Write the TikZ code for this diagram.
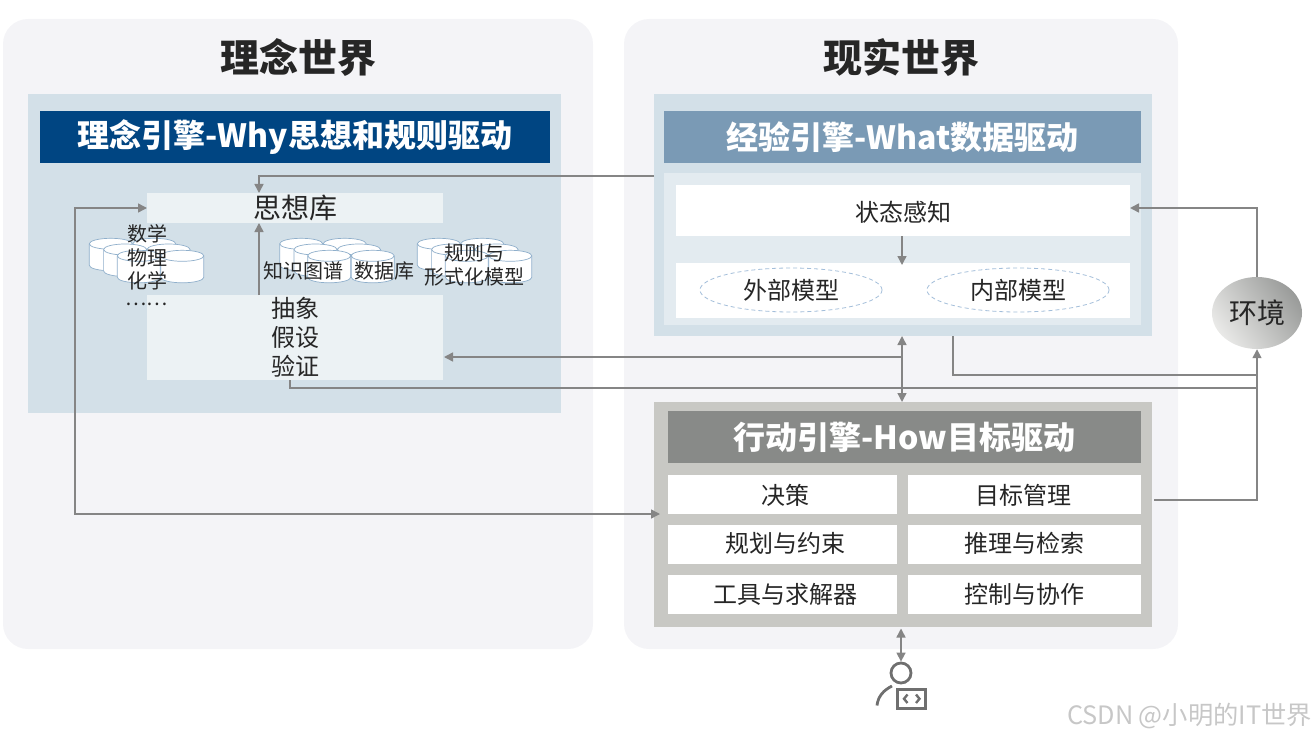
\documentclass[tikz,border=0pt]{standalone}
\usepackage{fontspec}
\setmainfont{Noto Sans CJK SC}
\usetikzlibrary{arrows.meta,shapes.geometric}
\definecolor{panelc}{HTML}{F4F4F7}
\definecolor{bluebg}{HTML}{D3E0E8}
\definecolor{navyc}{HTML}{004582}
\definecolor{steelc}{HTML}{7A9AB5}
\definecolor{innerc}{HTML}{E3EBF0}
\definecolor{palec}{HTML}{ECF2F4}
\definecolor{greybg}{HTML}{C8C8C4}
\definecolor{greyhd}{HTML}{888A88}
\definecolor{linec}{HTML}{858585}
\definecolor{txtc}{HTML}{262626}
\definecolor{cylc}{HTML}{8FAFCB}
\definecolor{dashc}{HTML}{A3BEDA}
\definecolor{iconc}{HTML}{6F6F6F}
\newcommand{\fs}[1]{\fontsize{#1}{#1}\selectfont}
\tikzset{
  rect/.style n args={4}{rectangle,inner sep=0pt,outer sep=0pt,draw=none,text=txtc,align=center,
    minimum width={#3pt-#1pt},minimum height={#4pt-#2pt},at={({(#1+#3)/2},{(#2+#4)/2})}},
  hd/.style={text=white,font=\bfseries\fs{32}},
  lbl/.style={inner sep=0pt,text=txtc,align=center},
  conn/.style={draw=linec,line width=1.5pt,line join=miter},
  arr/.style={conn,-{Triangle[length=9pt,width=9pt]}},
  darr/.style={conn,{Triangle[length=9pt,width=9pt]}-{Triangle[length=9pt,width=9pt]}},
  dbl/.style={ellipse,draw=dashc,dash pattern=on 4pt off 3pt,line width=0.8pt,inner sep=0pt,text=txtc,
    minimum width=182pt,minimum height=44pt,font=\fs{24}},
  can/.pic={
    \draw[cylc,line width=0.7pt,fill=white] (0,5.5) -- (0,27) arc[start angle=180,end angle=360,x radius=21.5,y radius=-5.5]
       -- (43,5.5) arc[start angle=0,end angle=180,x radius=21.5,y radius=-5.5] -- cycle;
    \draw[cylc,line width=0.7pt] (0,5.5) arc[start angle=180,end angle=360,x radius=21.5,y radius=-5.5];
  },
  cans/.pic={
    \pic at (0,0) {can}; \pic at (43.5,0) {can};
    \pic at (14.3,5.7) {can}; \pic at (57.8,5.7) {can};
    \pic at (28,12) {can}; \pic at (71.5,12) {can};
  }
}
\begin{document}
\begin{tikzpicture}[x=1pt,y=-1pt]
\useasboundingbox (0,0) rectangle (1316,738);
% panels
\node[rect={3}{19}{593}{649},fill=panelc,rounded corners=25pt] (ideal) {};
\node[rect={624}{19}{1178}{649},fill=panelc,rounded corners=25pt] (real) {};
\node[lbl,font=\bfseries\fs{39}] (idealt) at (298,58) {理念世界};
\node[lbl,font=\bfseries\fs{39}] (realt) at (901,58) {现实世界};
% left engine
\node[rect={28}{94}{561}{413},fill=bluebg] (left) {};
\node[rect={40}{111}{550}{163},fill=navyc,hd] (lefth) {理念引擎-Why思想和规则驱动};
\node[rect={147}{193}{443}{223},fill=palec,font=\fs{28}] (thought) {思想库};
\node[rect={147}{295}{443}{380},fill=palec] (abst) {};
\node[lbl,font=\fs{24}] (abst1) at (295,308) {抽象};
\node[lbl,font=\fs{24}] (abst2) at (295,337) {假设};
\node[lbl,font=\fs{24}] (abst3) at (295,366) {验证};
% cylinders
\pic at (89.3,238.3) {cans};
\pic at (279.7,238.3) {cans};
\pic at (417.3,238.3) {cans};
\node[lbl,font=\fs{20}] (m1) at (147,233.5) {数学};
\node[lbl,font=\fs{20}] (m2) at (147,257.5) {物理};
\node[lbl,font=\fs{20}] (m3) at (147,281) {化学};
\node[lbl,font=\fs{20}] (m4) at (146.5,304) {……};
\node[lbl,font=\fs{20}] (kg) at (303,271) {知识图谱};
\node[lbl,font=\fs{20}] (db) at (384,271) {数据库};
\node[lbl,font=\fs{20}] (r1) at (474,253) {规则与};
\node[lbl,font=\fs{20}] (r2) at (474,277) {形式化模型};
% experience engine
\node[rect={654}{94}{1152}{336},fill=bluebg] (exp) {};
\node[rect={664}{111}{1141}{163},fill=steelc,hd] (exph) {经验引擎-What数据驱动};
\node[rect={664}{173}{1141}{325},fill=innerc] (expi) {};
\node[rect={676}{185}{1130}{236},fill=white] (sense) {};
\node[lbl,font=\fs{24}] (senset) at (903,212) {状态感知};
\node[rect={676}{263}{1130}{318},fill=white] (models) {};
\node[dbl] (outer) at (791,290) {外部模型};
\node[dbl] (inner) at (1018,290) {内部模型};
% action engine
\node[rect={654}{402}{1152}{627},fill=greybg] (act) {};
\node[rect={668}{411}{1141}{463},fill=greyhd,hd] (acth) {行动引擎-How目标驱动};
\node[rect={668}{475}{897}{514},fill=white] (c1) {};
\node[rect={908}{475}{1141}{514},fill=white] (c2) {};
\node[rect={668}{525}{897}{564},fill=white] (c3) {};
\node[rect={908}{525}{1141}{564},fill=white] (c4) {};
\node[rect={668}{575}{897}{614},fill=white] (c5) {};
\node[rect={908}{575}{1141}{614},fill=white] (c6) {};
\node[lbl,font=\fs{24}] (t1) at (785,495.5) {决策};
\node[lbl,font=\fs{24}] (t2) at (1023.5,495.5) {目标管理};
\node[lbl,font=\fs{24}] (t3) at (785,543.5) {规划与约束};
\node[lbl,font=\fs{24}] (t4) at (1024,543.5) {推理与检索};
\node[lbl,font=\fs{24}] (t5) at (785,594.5) {工具与求解器};
\node[lbl,font=\fs{24}] (t6) at (1024,594.5) {控制与协作};
% environment
\node[ellipse,minimum width=90pt,minimum height=72pt,inner sep=0pt,left color=greybg!40!white,right color=greyhd!85!white,shading angle=125,text=txtc,font=\fs{28}] (env) at (1257,313) {环境};
% person
\node[circle,draw=iconc,line width=2.8pt,minimum size=20pt,inner sep=0pt] (head) at (901,673) {};
\node[rect={897.5}{689.5}{925.5}{708},draw=iconc,line width=3pt] (code) {};
\draw[iconc,line width=2.4pt] (907.5,694.5) -- (904,698.8) -- (907.5,703);
\draw[iconc,line width=2.4pt] (916,694.5) -- (919.5,698.8) -- (916,703);
\draw[iconc,line width=2.8pt] (877,705.5) .. controls (878,696) and (884,690) .. (892,686);
% connector helpers
\coordinate (x259) at (259,0);
\coordinate (x75) at (75,0);
\coordinate (x902) at (902,0);
\coordinate (x290) at (290,0);
\coordinate (x953) at (953,0);
\coordinate (y176) at (0,176);
\coordinate (y208) at (0,208);
\coordinate (y357) at (0,357);
\coordinate (y388) at (0,388);
\coordinate (y375) at (0,375);
\coordinate (y514) at (0,514);
\coordinate (tap) at (1154,500);
\coordinate (actin) at (660,514);
\coordinate (persn) at (901,628.5);
% connectors
\draw[arr] (exp.west |- y176) -- (x259 |- y176) -- (x259 |- thought.north);
\draw[arr] (x259 |- abst.north) -- (x259 |- thought.south);
\draw[darr] (thought.west) -- (x75 |- thought.west) -- (x75 |- y514) -- (actin);
\draw[arr] (x902 |- sense.south) -- ([yshift=-2pt]x902 |- models.north);
\draw[darr] (x902 |- exp.south) -- (x902 |- act.north);
\draw[arr] (x902 |- y357) -- ([xshift=1pt]abst.east |- y357);
\draw[conn] (x290 |- abst.south) -- (x290 |- y388) -- (env.south |- y388);
\draw[conn] (x953 |- exp.south) -- (x953 |- y375) -- (env.south |- y375);
\draw[arr] (tap) -- (env.south |- tap) -- (env.south);
\draw[arr] (env.north) -- (env.north |- y208) -- (sense.east |- y208);
\draw[darr] (persn) -- (head.north);
% watermark
\node[lbl,text=black!22,font=\fs{25.3}] (wm) at (1189.5,716) {CSDN @小明的IT世界};
\end{tikzpicture}
\end{document}
